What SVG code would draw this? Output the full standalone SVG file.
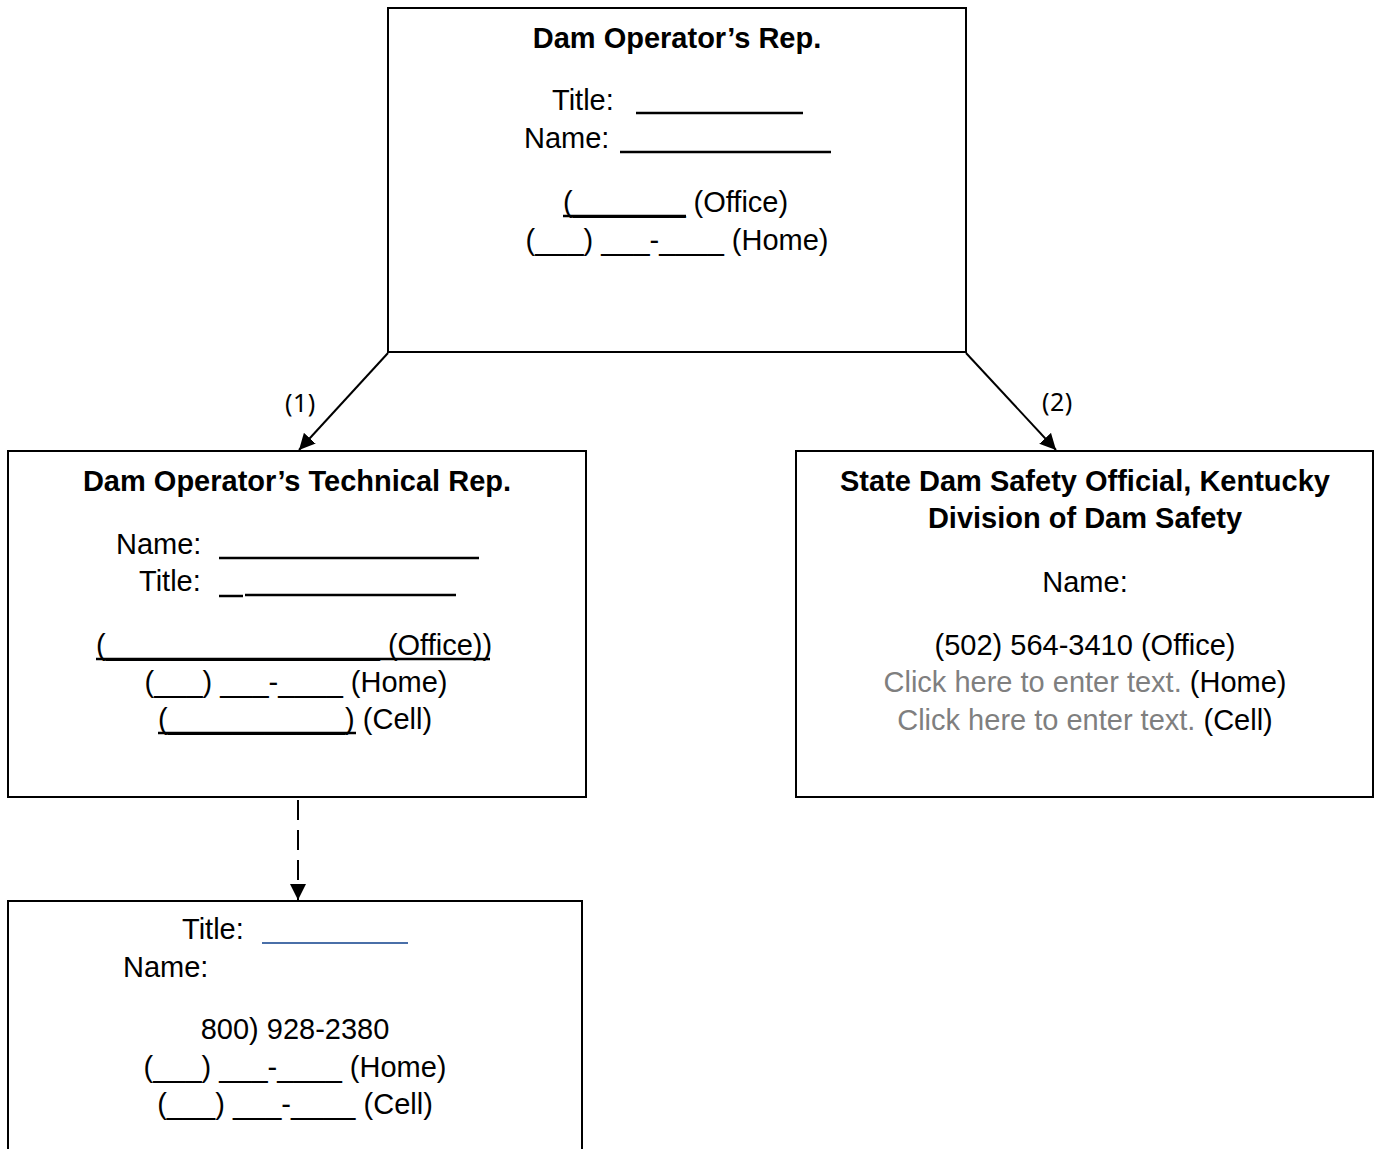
<svg xmlns="http://www.w3.org/2000/svg" width="1379" height="1149" viewBox="0 0 1379 1149">
<defs>
<style>
.box{fill:#fff;stroke:#000;stroke-width:2}
.t{font-family:"Liberation Sans",Arial,sans-serif;font-size:29px;fill:#000}
.b{font-weight:bold;font-size:29px}
.c{text-anchor:middle}
.g{fill:#7f7f7f}
.lbl{font-family:"Noto Sans","Open Sans",sans-serif;font-size:25px;fill:#000;letter-spacing:0.5px}
.rule{stroke:#000;stroke-width:2.5}
.conn{stroke:#000;stroke-width:2;fill:none}
</style>
<marker id="ah2" viewBox="0 0 10 10" refX="10" refY="5" markerWidth="16" markerHeight="16" markerUnits="userSpaceOnUse" orient="auto">
<path d="M0,0 L10,5 L0,10 z" fill="#000"/>
</marker>
</defs>
<rect width="1379" height="1149" fill="#fff"/>

<g id="connectors">
<line class="conn" x1="388" y1="353" x2="299" y2="450" marker-end="url(#ah2)"/>
<line class="conn" x1="966" y1="353" x2="1056" y2="450" marker-end="url(#ah2)"/>
<line class="conn" x1="298" y1="800" x2="298" y2="900" stroke-width="3" stroke-dasharray="20 10" marker-end="url(#ah2)"/>
<text class="lbl" x="285" y="412">(1)</text>
<text class="lbl" x="1042" y="411">(2)</text>
</g>

<g id="node-operator-rep">
<rect class="box" x="388" y="8" width="578" height="344"/>
<text class="t b c" x="677" y="48">Dam Operator’s Rep.</text>
<text class="t" x="552" y="110">Title:</text>
<line class="rule" x1="636" y1="113" x2="803" y2="113"/>
<text class="t" x="524" y="148">Name:</text>
<line class="rule" x1="620" y1="152" x2="831" y2="152"/>
<text class="t" x="563" y="212">(_______ (Office)</text>
<line class="rule" x1="563" y1="216" x2="686" y2="216"/>
<text class="t c" x="677" y="250">(___) ___-____ (Home)</text>
</g>

<g id="node-technical-rep">
<rect class="box" x="8" y="451" width="578" height="346"/>
<text class="t b c" x="297" y="491">Dam Operator’s Technical Rep.</text>
<text class="t" x="116" y="554">Name:</text>
<line class="rule" x1="219" y1="558" x2="479" y2="558"/>
<text class="t" x="139" y="591">Title:</text>
<line class="rule" x1="219" y1="596" x2="243" y2="596"/>
<line class="rule" x1="245" y1="595" x2="456" y2="595"/>
<text class="t" x="96" y="655">(_________________ (Office))</text>
<line class="rule" x1="96" y1="659" x2="490" y2="659"/>
<text class="t c" x="296" y="692">(___) ___-____ (Home)</text>
<text class="t" x="158" y="729">(___________) (Cell)</text>
<line class="rule" x1="158" y1="733" x2="356" y2="733"/>
</g>

<g id="node-state-official">
<rect class="box" x="796" y="451" width="577" height="346"/>
<text class="t b c" x="1085" y="491">State Dam Safety Official, Kentucky</text>
<text class="t b c" x="1085" y="528">Division of Dam Safety</text>
<text class="t c" x="1085" y="592">Name:</text>
<text class="t c" x="1085" y="655">(502) 564-3410 (Office)</text>
<text class="t c" x="1085" y="692"><tspan class="g">Click here to enter text.</tspan> (Home)</text>
<text class="t c" x="1085" y="730"><tspan class="g">Click here to enter text.</tspan> (Cell)</text>
</g>

<g id="node-contact">
<rect class="box" x="8" y="901" width="574" height="270"/>
<text class="t" x="182" y="939">Title:</text>
<line x1="262" y1="943" x2="408" y2="943" stroke="#4a6fa8" stroke-width="2"/>
<text class="t" x="123" y="977">Name:</text>
<text class="t c" x="295" y="1039">800) 928-2380</text>
<text class="t c" x="295" y="1077">(___) ___-____ (Home)</text>
<text class="t c" x="295" y="1114">(___) ___-____ (Cell)</text>
</g>
</svg>
